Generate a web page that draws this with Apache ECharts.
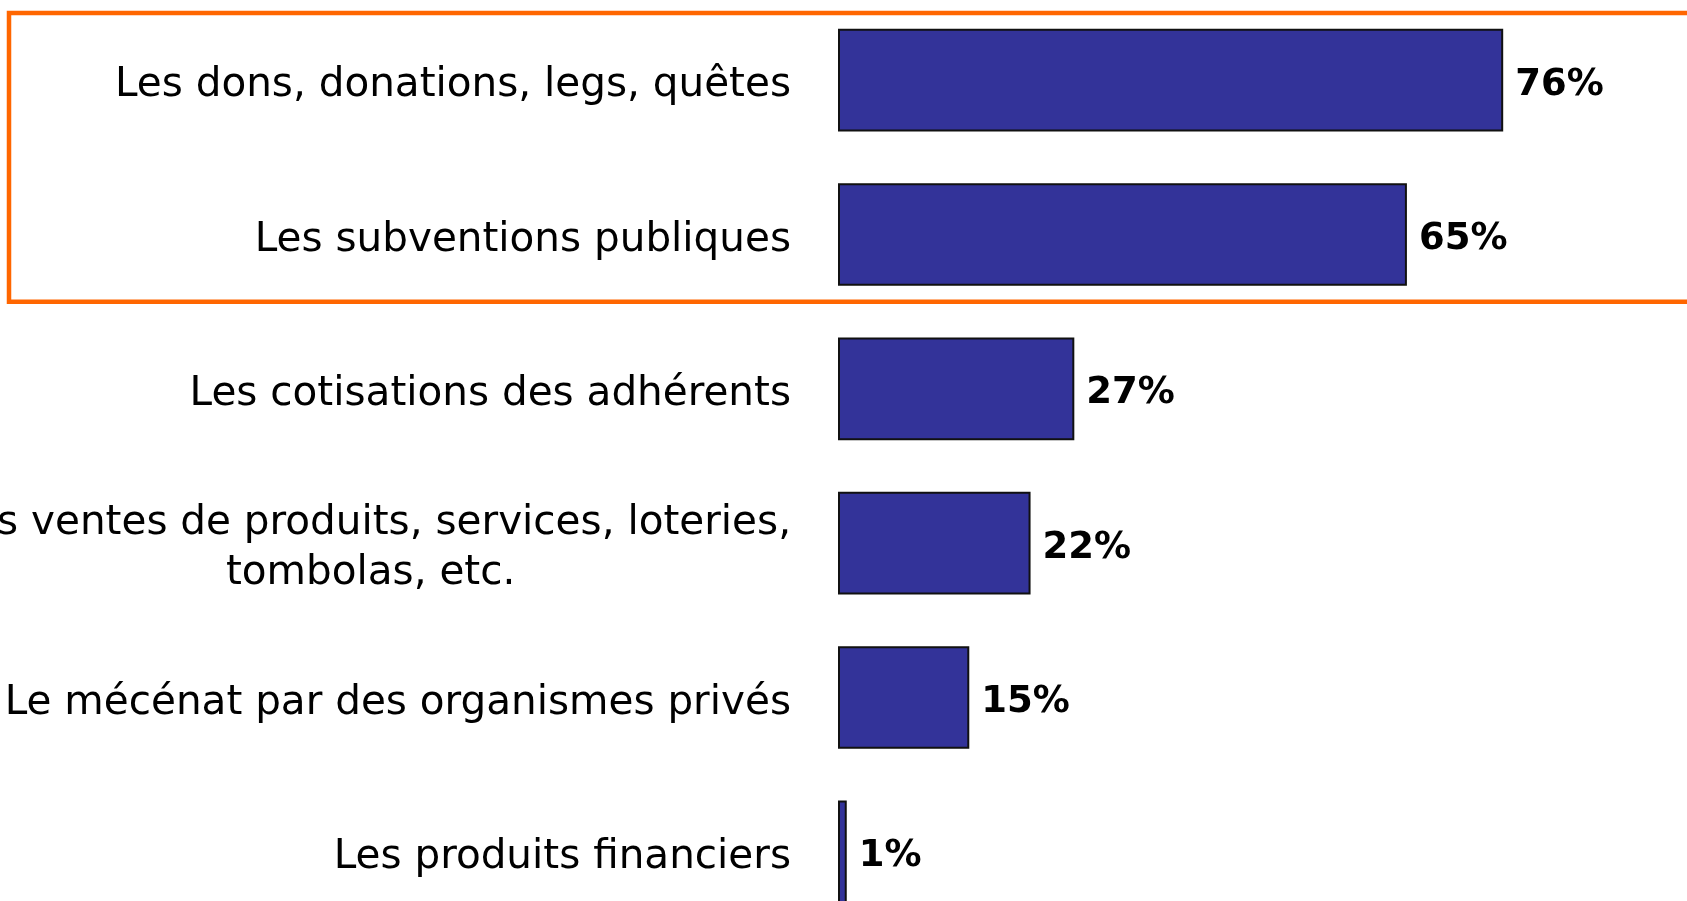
<!DOCTYPE html>
<html lang="fr">
<head>
    <meta charset="UTF-8">
    <title>Ressources des associations</title>
    <script src="https://cdn.jsdelivr.net/npm/echarts@6/dist/echarts.min.js"></script>
    <style type="text/css">
        html, body { margin:0; padding:0; background:#fff; overflow:hidden; }
        #main{ width:1687px; height:901px; }
    </style>
</head>
<body>
<div id="main"></div>
<script type="application/javascript">
    // data
    var categories = [
        'Les dons, donations, legs, quêtes',
        'Les subventions publiques',
        'Les cotisations des adhérents',
        'Les ventes de produits, services, loteries,\ntombolas, etc.',
        'Le mécénat par des organismes privés',
        'Les produits financiers'
    ];
    var values = [76, 65, 27, 22, 15, 1];
    // categories framed by the orange box
    var highlighted = [0, 1];

    var myChart = echarts.init(document.getElementById('main'));
    var gridHeight = 926;

    myChart.setOption({
        animation:false,
        textStyle:{ fontFamily:'DejaVu Sans' },
        grid:{ left:838, top:3, width:849, height:gridHeight, outerBoundsMode:'none', containLabel:false },
        xAxis:{
            type:'value',
            min:0,
            max:97,
            show:false
        },
        yAxis:{
            type:'category',
            inverse:true,
            data:categories,
            axisLine:{ show:false },
            axisTick:{ show:false },
            splitLine:{ show:false },
            axisLabel:{
                margin:47,
                color:'#000',
                fontSize:40.5,
                fontFamily:'DejaVu Sans',
                lineHeight:50,
                padding:[11, 0, 0, 0],
                formatter:function (v) {
                    if (v.indexOf('\n') < 0) return v;
                    // wrapped label: lines centred on each other
                    return v.split('\n').map(function (s) { return '{c|' + s + '}'; }).join('\n');
                },
                rich:{
                    c:{ align:'center', fontSize:40.5, lineHeight:50, color:'#000', fontFamily:'DejaVu Sans' }
                }
            }
        },
        series:[{
            type:'bar',
            data:values,
            barCategoryGap:'33.5%',
            itemStyle:{ color:'#333399', borderColor:'#111', borderWidth:2 },
            label:{
                show:true,
                position:'right',
                distance:12,
                offset:[0, 5],
                formatter:'{c}%',
                color:'#000',
                fontSize:37,
                fontWeight:'bold',
                fontFamily:'DejaVu Sans'
            }
        }]
    });

    // orange frame around the highlighted categories, placed from the axis scale
    (function () {
        var yFirst = myChart.convertToPixel({ yAxisIndex:0 }, highlighted[0]);
        var yLast = myChart.convertToPixel({ yAxisIndex:0 }, highlighted[highlighted.length - 1]);
        var band = gridHeight / categories.length;
        var inset = 10;
        var boxTop = yFirst - band / 2 + inset;
        var boxBottom = yLast + band / 2 - inset;
        myChart.setOption({
            graphic:[{
                type:'rect',
                shape:{ x:9, y:boxTop, width:2000, height:boxBottom - boxTop },
                style:{ fill:'none', stroke:'#FF6600', lineWidth:4.5 },
                z:-1
            }]
        });
    })();
</script>
</body>
</html>
